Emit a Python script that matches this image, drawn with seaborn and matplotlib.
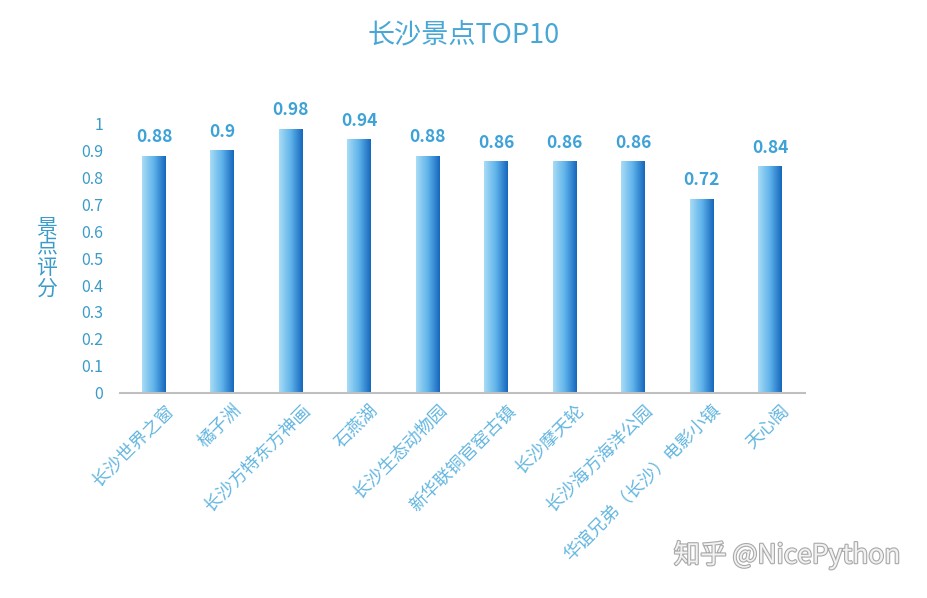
import numpy as np
import pandas as pd
import matplotlib
matplotlib.use("Agg")
import matplotlib.pyplot as plt
import matplotlib.patheffects as pe
import matplotlib.transforms as mtransforms
from matplotlib.colors import LinearSegmentedColormap
import seaborn as sns

spots = ["长沙世界之窗", "橘子洲", "长沙方特东方神画", "石燕湖", "长沙生态动物园",
         "新华联铜官窑古镇", "长沙摩天轮", "长沙海方海洋公园", "华谊兄弟（长沙）电影小镇", "天心阁"]
scores = [0.88, 0.9, 0.98, 0.94, 0.88, 0.86, 0.86, 0.86, 0.72, 0.84]
yticks = [0, 0.1, 0.2, 0.3, 0.4, 0.5, 0.6, 0.7, 0.8, 0.9, 1]
ytick_labels = ["0", "0.1", "0.2", "0.3", "0.4", "0.5", "0.6", "0.7", "0.8", "0.9", "1"]

sns.set_theme(style="white")
plt.rcParams['font.family'] = ['Noto Sans CJK SC', 'DejaVu Sans']

df = pd.DataFrame({"spot": spots, "score": scores})

fig = plt.figure(figsize=(9.28, 5.98), dpi=100)
ax = fig.add_axes([0.129, 0.343, 0.738, 0.451])

sns.barplot(data=df, x="spot", y="score", width=0.35, color="#4aa3e0", ax=ax)

# gradient fill for each bar: light on the left, dark on the right
grad_cmap = LinearSegmentedColormap.from_list("bar", ["#a9dcf6", "#5fb3ea", "#1566bd"])
grad = np.linspace(0, 1, 256).reshape(1, -1)
for bar in ax.patches:
    x0, y0 = bar.get_x(), bar.get_y()
    w, h = bar.get_width(), bar.get_height()
    im = ax.imshow(grad, cmap=grad_cmap, aspect="auto",
                   extent=[x0, x0 + w, y0, y0 + h], zorder=bar.get_zorder() + 0.1)
    im.set_clip_path(bar)
    bar.set_edgecolor("none")

for i, v in enumerate(scores):
    ax.text(i, v + 0.035, f"{v:g}", ha="center", va="bottom", fontsize=12.5,
            fontweight="bold", color="#3ea2d8", clip_on=False)

ax.set_xlim(-0.5, len(spots) - 0.5)
ax.set_ylim(0, 1)
ax.set_yticks(yticks)
ax.set_yticklabels(ytick_labels, color="#3a9bc9", fontsize=11.5)
ax.set_xticks(range(len(spots)))
ax.set_xticklabels(spots, rotation=45, ha="right", rotation_mode="anchor",
                   color="#63b6e0", fontsize=12.8)
ax.tick_params(axis="both", length=0, pad=6)
ax.tick_params(axis="y", pad=12)
shift = mtransforms.ScaledTranslation(0.1, 0, fig.dpi_scale_trans)
for lab in ax.get_xticklabels():
    lab.set_transform(lab.get_transform() + shift)

for side in ["top", "right", "left"]:
    ax.spines[side].set_visible(False)
ax.spines["bottom"].set_color("#bfbfbf")
ax.spines["bottom"].set_linewidth(1.5)

ax.set_xlabel("")
ax.set_ylabel("景\n点\n评\n分", rotation=0, color="#3a9bc9", fontsize=15,
              linespacing=0.9, va="center", ha="center")
ax.yaxis.set_label_coords(-0.107, 0.5)

fig.text(0.5, 0.942, "长沙景点TOP10", ha="center", va="center", fontsize=19.5,
         color="#49a7d6")

fig.text(0.97, 0.072, "知乎 @NicePython", ha="right", va="center", fontsize=19,
         color="#f2f2f2",
         path_effects=[pe.withStroke(linewidth=1.6, foreground="#a8a8a8")])

fig.savefig("out.png", dpi=100)
